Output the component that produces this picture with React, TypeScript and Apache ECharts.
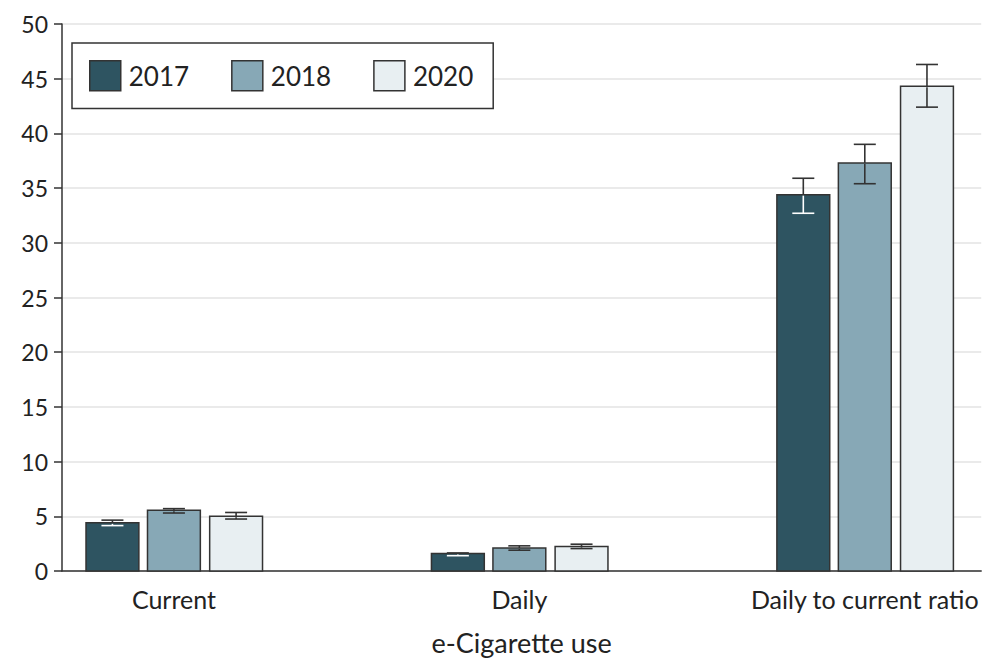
import React, { useEffect, useRef } from "react";
import * as echarts from "echarts";

const categories = ["Current", "Daily", "Daily to current ratio"];
const years = ["2017", "2018", "2020"];
const values2017 = [4.4, 1.6, 34.4];
const low2017 = [4.15, 1.4, 32.7];
const high2017 = [4.65, 1.65, 35.9];
const values2018 = [5.55, 2.1, 37.3];
const low2018 = [5.3, 1.9, 35.4];
const high2018 = [5.7, 2.3, 39.0];
const values2020 = [5.0, 2.25, 44.3];
const low2020 = [4.75, 2.05, 42.4];
const high2020 = [5.35, 2.45, 46.3];
const yTicks = [0, 5, 10, 15, 20, 25, 30, 35, 40, 45, 50];

const FONT = "Lato";
const colors = ["#2e5461", "#87a8b6", "#e8eff2"];
const innerWhisker = ["#ffffff", "#333333", "#333333"];
const offsets = [-0.178, 0, 0.18];

export default function App() {
  const ref = useRef<HTMLDivElement>(null);
  useEffect(() => {
    document.body.style.margin = "0";
    const chart = echarts.init(ref.current!, null, { renderer: "svg" });
    const seriesData = [
      [values2017, low2017, high2017],
      [values2018, low2018, high2018],
      [values2020, low2020, high2020],
    ];
    const series = years.map((y, si) => ({
      type: "custom",
      name: y,
      itemStyle: { color: colors[si], borderColor: "#333", borderWidth: 1.5 },
      encode: { x: 0, y: 1 },
      data: categories.map((_, ci) => [
        ci,
        seriesData[si][0][ci],
        seriesData[si][1][ci],
        seriesData[si][2][ci],
      ]),
      renderItem: (params: any, api: any) => {
        const x = api.value(0);
        const v = api.value(1);
        const lo = api.value(2);
        const hi = api.value(3);
        const unit = api.size([1, 0])[0];
        const base = api.coord([x, 0]);
        const top = api.coord([x, v]);
        const cx = base[0] + offsets[si] * unit;
        const w = 0.153 * unit;
        const pLo = api.coord([x, lo])[1];
        const pHi = api.coord([x, hi])[1];
        const cap = 11;
        const dark = { stroke: "#333", lineWidth: 1.6 };
        const inner = { stroke: innerWhisker[si], lineWidth: 1.6 };
        return {
          type: "group",
          children: [
            {
              type: "rect",
              shape: { x: cx - w / 2, y: top[1], width: w, height: base[1] - top[1] },
              style: { fill: colors[si], stroke: "#333", lineWidth: 1.5 },
            },
            { type: "line", shape: { x1: cx, y1: pHi, x2: cx, y2: top[1] }, style: dark },
            { type: "line", shape: { x1: cx - cap, y1: pHi, x2: cx + cap, y2: pHi }, style: dark },
            { type: "line", shape: { x1: cx, y1: top[1] + 1, x2: cx, y2: pLo }, style: inner },
            { type: "line", shape: { x1: cx - cap, y1: pLo, x2: cx + cap, y2: pLo }, style: inner },
          ],
        };
      },
    }));

    chart.setOption({
      animation: false,
      grid: { left: 62, top: 24, right: 0, bottom: 87 },
      legend: {
        left: 72,
        top: 43,
        orient: "horizontal",
        backgroundColor: "#fff",
        borderColor: "#333",
        borderWidth: 1.5,
        borderRadius: 0,
        padding: [17, 20, 17, 17],
        itemWidth: 31,
        itemHeight: 30,
        itemGap: 42,
        icon: "rect",
        textStyle: { fontFamily: FONT, fontSize: 26, color: "#222", padding: [0, 0, 0, 3] },
        data: years.map((y, i) => ({
          name: y,
          itemStyle: { color: colors[i], borderColor: "#333", borderWidth: 1.5 },
        })),
      },
      xAxis: {
        type: "value",
        min: -0.324,
        max: 2.337,
        name: "e-Cigarette use",
        nameLocation: "middle",
        nameGap: 58,
        nameTextStyle: { fontFamily: FONT, fontSize: 27, color: "#222" },
        axisLine: { show: true, onZero: false, lineStyle: { color: "#333", width: 1.5 } },
        axisTick: { show: false },
        splitLine: { show: false },
        axisLabel: {
          customValues: [0, 1, 2],
          formatter: (v: number) => categories[Math.round(v)] ?? "",
          fontFamily: FONT,
          fontSize: 25,
          color: "#222",
          margin: 15,
        },
      },
      yAxis: {
        type: "value",
        min: 0,
        max: 50,
        interval: 5,
        axisLine: { show: true, onZero: false, lineStyle: { color: "#333", width: 1.5 } },
        axisTick: { show: true, length: 8, lineStyle: { color: "#333", width: 1.5 } },
        splitLine: { show: true, lineStyle: { color: "#e3e3e3", width: 1.5 } },
        axisLabel: {
          fontFamily: FONT,
          fontSize: 23,
          color: "#222",
          margin: 14,
          customValues: yTicks,
        },
      },
      series,
    });
    return () => chart.dispose();
  }, []);
  return <div ref={ref} style={{ width: 982, height: 661 }} />;
}
